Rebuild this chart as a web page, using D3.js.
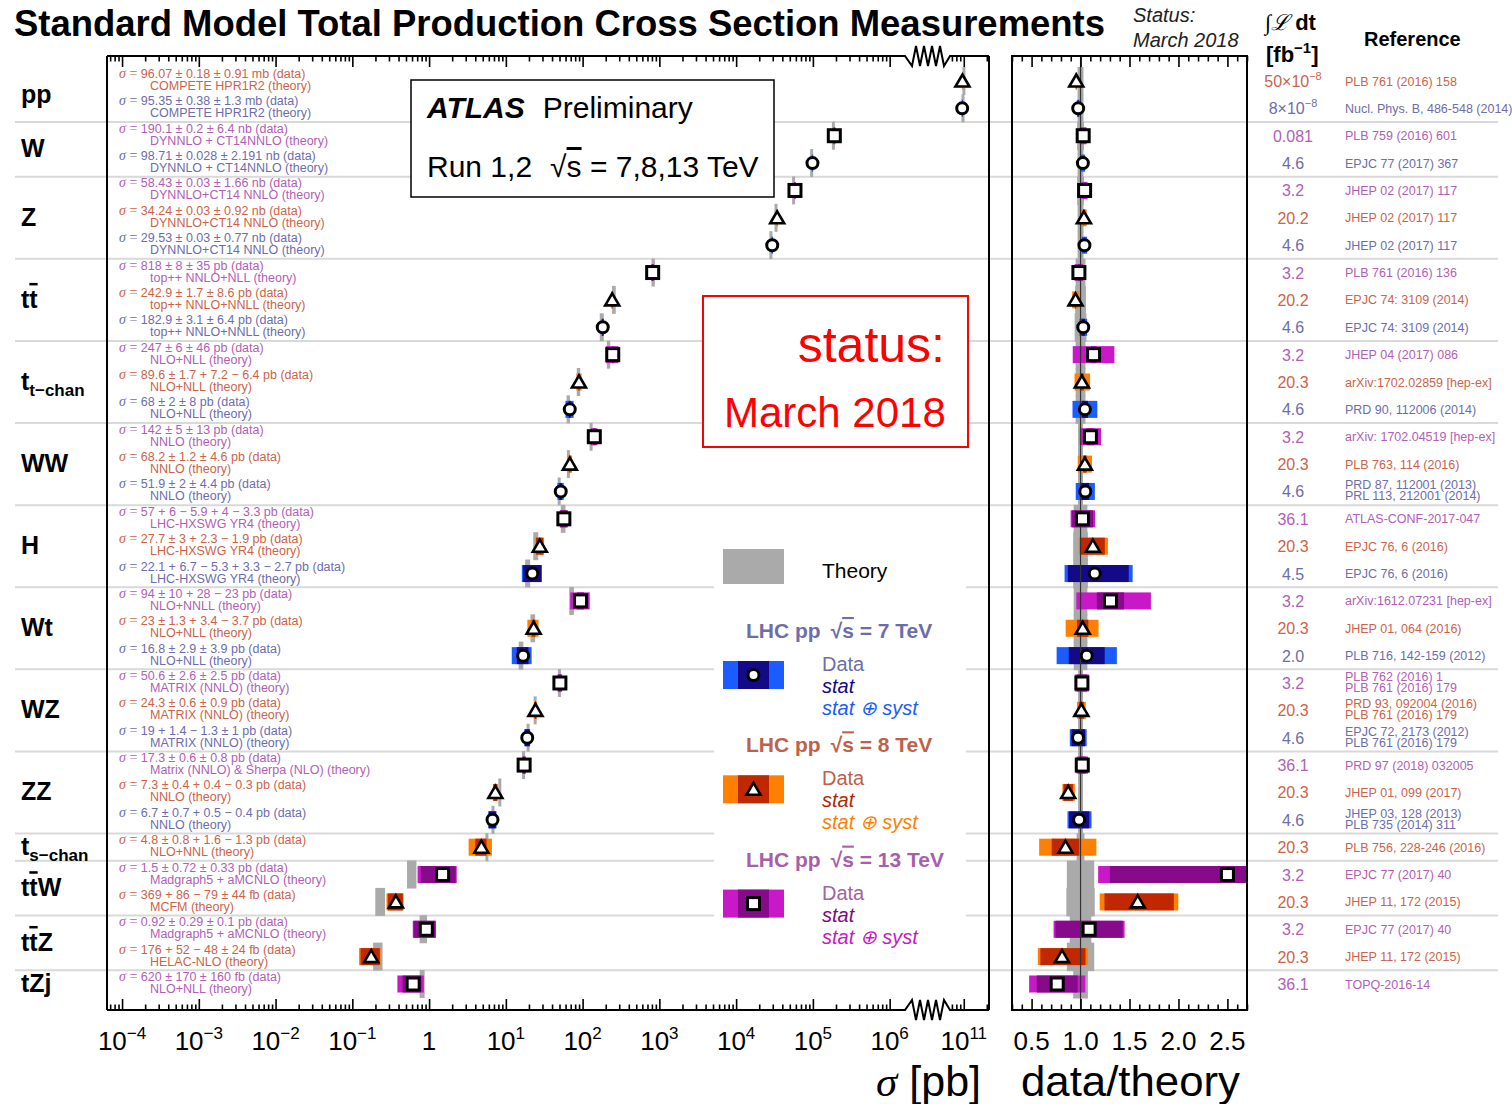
<!DOCTYPE html>
<html><head><meta charset="utf-8">
<script src="https://cdn.jsdelivr.net/npm/d3@7"></script>
<style>body{margin:0;background:#fff}svg{display:block}</style>
</head><body><svg id="c" width="1512" height="1104"></svg>
<script>
// ---------------- DATA ----------------
const groupNames = ["pp","W","Z","tt̄","t_t−chan","WW","H","Wt","WZ","ZZ","t_s−chan","tt̄W","tt̄Z","tZj"];
const groupSizes = [2,2,3,3,3,3,3,3,3,3,1,2,2,1];
const energy = [8,7,13,7,13,8,7,13,8,7,13,8,7,13,8,7,13,8,7,13,8,7,13,8,7,13,8,7,8,13,8,13,8,13];
// cross sections in pb
const sigma  = [96.07e9,95.35e9,190.1e3,98.71e3,58.43e3,34.24e3,29.53e3,818,242.9,182.9,247,89.6,68,142,68.2,51.9,57,27.7,22.1,94,23,16.8,50.6,24.3,19,17.3,7.3,6.7,4.8,1.5,0.369,0.92,0.176,0.62];
const statUp = [0.18e9,0.38e9,0.2e3,0.028e3,0.03e3,0.03e3,0.03e3,8,1.7,3.1,6,1.7,2,5,1.2,2,6,3,6.7,10,1.3,2.9,2.6,0.6,1.4,0.6,0.4,0.7,0.8,0.72,0.086,0.29,0.052,0.17];
const statDn = [0.18e9,0.38e9,0.2e3,0.028e3,0.03e3,0.03e3,0.03e3,8,1.7,3.1,6,1.7,2,5,1.2,2,5.9,3,5.3,10,1.3,2.9,2.6,0.6,1.3,0.6,0.4,0.7,0.8,0.72,0.079,0.29,0.048,0.17];
const systUp = [0.91e9,1.3e9,6.4e3,2.191e3,1.66e3,0.92e3,0.77e3,35,8.6,6.4,46,7.2,8,13,4.6,4.4,4,2.3,3.3,28,3.4,3.9,2.5,0.9,1,0.8,0.4,0.5,1.6,0.33,0.044,0.1,0.024,0.16];
const systDn = [0.91e9,1.3e9,6.4e3,2.191e3,1.66e3,0.92e3,0.77e3,35,8.6,6.4,46,6.4,8,13,4.6,4.4,3.3,1.9,2.7,23,3.7,3.9,2.5,0.9,1,0.8,0.3,0.4,1.3,0.33,0.044,0.1,0.024,0.16];
const theory = [100.5e9,97.7e9,185.1e3,96.4e3,56.1e3,33.1e3,28.4e3,832,256,178,218,88.4,65.1,129,65.3,49.5,55.9,24.6,19.3,72,22.5,15.8,49.9,24.1,19.5,17.0,8.35,6.8,5.67,0.60,0.233,0.846,0.217,0.814];
const theoryUnc = [0.03,0.03,0.035,0.03,0.035,0.03,0.03,0.05,0.055,0.06,0.05,0.05,0.05,0.025,0.025,0.025,0.07,0.075,0.075,0.07,0.07,0.07,0.025,0.025,0.025,0.025,0.025,0.025,0.04,0.14,0.145,0.11,0.14,0.075];
const dataText = ["96.07 ± 0.18 ± 0.91 mb (data)","95.35 ± 0.38 ± 1.3 mb (data)","190.1 ± 0.2 ± 6.4 nb (data)","98.71 ± 0.028 ± 2.191 nb (data)","58.43 ± 0.03 ± 1.66 nb (data)","34.24 ± 0.03 ± 0.92 nb (data)","29.53 ± 0.03 ± 0.77 nb (data)","818 ± 8 ± 35 pb (data)","242.9 ± 1.7 ± 8.6 pb (data)","182.9 ± 3.1 ± 6.4 pb (data)","247 ± 6 ± 46 pb (data)","89.6 ± 1.7 + 7.2 − 6.4 pb (data)","68 ± 2 ± 8 pb (data)","142 ± 5 ± 13 pb (data)","68.2 ± 1.2 ± 4.6 pb (data)","51.9 ± 2 ± 4.4 pb (data)","57 + 6 − 5.9 + 4 − 3.3 pb (data)","27.7 ± 3 + 2.3 − 1.9 pb (data)","22.1 + 6.7 − 5.3 + 3.3 − 2.7 pb (data)","94 ± 10 + 28 − 23 pb (data)","23 ± 1.3 + 3.4 − 3.7 pb (data)","16.8 ± 2.9 ± 3.9 pb (data)","50.6 ± 2.6 ± 2.5 pb (data)","24.3 ± 0.6 ± 0.9 pb (data)","19 + 1.4 − 1.3 ± 1 pb (data)","17.3 ± 0.6 ± 0.8 pb (data)","7.3 ± 0.4 + 0.4 − 0.3 pb (data)","6.7 ± 0.7 + 0.5 − 0.4 pb (data)","4.8 ± 0.8 + 1.6 − 1.3 pb (data)","1.5 ± 0.72 ± 0.33 pb (data)","369 + 86 − 79 ± 44 fb (data)","0.92 ± 0.29 ± 0.1 pb (data)","176 + 52 − 48 ± 24 fb (data)","620 ± 170 ± 160 fb (data)"];
const theoryText = ["COMPETE HPR1R2 (theory)","COMPETE HPR1R2 (theory)","DYNNLO + CT14NNLO (theory)","DYNNLO + CT14NNLO (theory)","DYNNLO+CT14 NNLO (theory)","DYNNLO+CT14 NNLO (theory)","DYNNLO+CT14 NNLO (theory)","top++ NNLO+NLL (theory)","top++ NNLO+NNLL (theory)","top++ NNLO+NNLL (theory)","NLO+NLL (theory)","NLO+NLL (theory)","NLO+NLL (theory)","NNLO (theory)","NNLO (theory)","NNLO (theory)","LHC-HXSWG YR4 (theory)","LHC-HXSWG YR4 (theory)","LHC-HXSWG YR4 (theory)","NLO+NNLL (theory)","NLO+NLL (theory)","NLO+NLL (theory)","MATRIX (NNLO) (theory)","MATRIX (NNLO) (theory)","MATRIX (NNLO) (theory)","Matrix (NNLO) & Sherpa (NLO) (theory)","NNLO (theory)","NNLO (theory)","NLO+NNL (theory)","Madgraph5 + aMCNLO (theory)","MCFM (theory)","Madgraph5 + aMCNLO (theory)","HELAC-NLO (theory)","NLO+NLL (theory)"];
const lumiText = ["50×10^−8","8×10^−8","0.081","4.6","3.2","20.2","4.6","3.2","20.2","4.6","3.2","20.3","4.6","3.2","20.3","4.6","36.1","20.3","4.5","3.2","20.3","2.0","3.2","20.3","4.6","36.1","20.3","4.6","20.3","3.2","20.3","3.2","20.3","36.1"];
const refText = ["PLB 761 (2016) 158","Nucl. Phys. B, 486-548 (2014)","PLB 759 (2016) 601","EPJC 77 (2017) 367","JHEP 02 (2017) 117","JHEP 02 (2017) 117","JHEP 02 (2017) 117","PLB 761 (2016) 136","EPJC 74: 3109 (2014)","EPJC 74: 3109 (2014)","JHEP 04 (2017) 086","arXiv:1702.02859 [hep-ex]","PRD 90, 112006 (2014)","arXiv: 1702.04519 [hep-ex]","PLB 763, 114 (2016)","PRD 87, 112001 (2013)|PRL 113, 212001 (2014)","ATLAS-CONF-2017-047","EPJC 76, 6 (2016)","EPJC 76, 6 (2016)","arXiv:1612.07231 [hep-ex]","JHEP 01, 064 (2016)","PLB 716, 142-159 (2012)","PLB 762 (2016) 1|PLB 761 (2016) 179","PRD 93, 092004 (2016)|PLB 761 (2016) 179","EPJC 72, 2173 (2012)|PLB 761 (2016) 179","PRD 97 (2018) 032005","JHEP 01, 099 (2017)","JHEP 03, 128 (2013)|PLB 735 (2014) 311","PLB 756, 228-246 (2016)","EPJC 77 (2017) 40","JHEP 11, 172 (2015)","EPJC 77 (2017) 40","JHEP 11, 172 (2015)","TOPQ-2016-14"];
const mainTickExps = [-4,-3,-2,-1,0,1,2,3,4,5,6,11];
const ratioTickLabels = ["0.5","1.0","1.5","2.0","2.5"];
const legendEnergies = [7,8,13];

// ---------------- STYLE ----------------
const FONT = '"Liberation Sans", Arial, Helvetica, sans-serif';
const SERIF = '"Liberation Serif", "DejaVu Serif", serif';
const C = {
  7:  {text:"#6d6dab", stat:"#140a88", tot:"#1a5cff", head:"#6e6ea6", stxt:"#140a80"},
  8:  {text:"#cc634a", stat:"#c02800", tot:"#ff8000", head:"#c0604a", stxt:"#b02800"},
  13: {text:"#b160b5", stat:"#860a8a", tot:"#c818c8", head:"#a660a8", stxt:"#800a80"}
};
const GRAY = "#aaaaaa";

const svg = d3.select("#c");
svg.append("rect").attr("width",1512).attr("height",1104).attr("fill","#fff");

// ---------------- SCALES ----------------
const xLo = d3.scaleLog().domain([10**-4.2, 10**6.2]).range([106.7, 905]);
const xHi = d3.scaleLog().domain([10**10.82, 10**11.33]).range([950, 989]);
const xm = v => v > 1e8 ? xHi(v) : xLo(v);
const xr = d3.scaleLinear().domain([0.3, 2.7]).range([1012, 1247]);
const y = d3.scaleLinear().domain([0, 33]).range([81, 984]);
const rows = d3.range(sigma.length);

// ---------------- SEPARATORS ----------------
let cum = 0; const groupStart = [];
groupSizes.forEach(s => { groupStart.push(cum); cum += s; });
const seps = groupStart.slice(1);
svg.append("g").selectAll("line").data(seps).join("line")
  .attr("x1",15).attr("x2",1498).attr("y1",d=>y(d-0.5)).attr("y2",d=>y(d-0.5))
  .attr("stroke","#d9d9d9").attr("stroke-width",2);

// ---------------- TITLE ----------------
svg.append("text").attr("x",14).attr("y",36).attr("font-family",FONT).attr("font-weight","bold")
  .attr("font-size",37).attr("textLength",1091).attr("lengthAdjust","spacingAndGlyphs")
  .text("Standard Model Total Production Cross Section Measurements");
svg.append("text").attr("x",1133).attr("y",22).attr("font-family",FONT).attr("font-style","italic").attr("font-size",20).attr("fill","#222").text("Status:");
svg.append("text").attr("x",1133).attr("y",47).attr("font-family",FONT).attr("font-style","italic").attr("font-size",20).attr("fill","#222").text("March 2018");

// ---------------- GROUP LABELS ----------------
const gl = svg.append("g").attr("font-family",FONT).attr("font-weight","bold").attr("font-size",25);
groupNames.forEach((name,i) => {
  const s = groupStart[i], e = s + groupSizes[i] - 1;
  const yc = (y(s)+y(e))/2 + 8;
  const t = gl.append("text").attr("x",21).attr("y",yc);
  if (name.startsWith("t_")) {
    t.append("tspan").text("t");
    t.append("tspan").attr("font-size",17).attr("dy",6).text(name.slice(2));
  } else if (name.includes("t̄")) {
    const rest = name.replace("tt̄","");
    t.append("tspan").text("t");
    t.append("tspan").style("text-decoration","overline").text("t");
    if (rest) t.append("tspan").text(rest);
  } else t.text(name);
});

// ---------------- BOXES (ATLAS / status / legend backgrounds) ----------------
svg.append("rect").attr("x",411).attr("y",80).attr("width",363).attr("height",117).attr("fill","#fff").attr("stroke","#000").attr("stroke-width",1.5);
const at = svg.append("text").attr("x",427).attr("y",118).attr("font-family",FONT).attr("font-size",30);
at.append("tspan").attr("font-weight","bold").attr("font-style","italic").text("ATLAS");
at.append("tspan").attr("dx",18).text("Preliminary");
const run = svg.append("text").attr("x",427).attr("y",177).attr("font-family",FONT).attr("font-size",30);
run.append("tspan").text("Run 1,2");
run.append("tspan").attr("dx",18).text("√");
run.append("tspan").style("text-decoration","overline").text("s");
run.append("tspan").text(" = 7,8,13 TeV");

svg.append("rect").attr("x",703).attr("y",296).attr("width",265).attr("height",151).attr("fill","#fff").attr("stroke","#ff0000").attr("stroke-width",2);
svg.append("text").attr("x",945).attr("y",362).attr("text-anchor","end").attr("font-family",FONT).attr("font-size",50).attr("fill","#ff0000").text("status:");
svg.append("text").attr("x",724).attr("y",427).attr("font-family",FONT).attr("font-size",42).attr("fill","#ff0000").text("March 2018");

svg.append("rect").attr("x",714).attr("y",540).attr("width",252).attr("height",415).attr("fill","#fff");

// ---------------- MARKERS ----------------
function marker(g, e, cx, cy) {
  if (e === 7) g.append("circle").attr("cx",cx).attr("cy",cy).attr("r",5.5).attr("fill","#fff").attr("stroke","#000").attr("stroke-width",3);
  else if (e === 8) g.append("path").attr("d",`M${cx},${cy-6.5}L${cx+7},${cy+5.5}L${cx-7},${cy+5.5}Z`).attr("fill","#fff").attr("stroke","#000").attr("stroke-width",2.6).attr("stroke-linejoin","miter");
  else g.append("rect").attr("x",cx-6).attr("y",cy-6).attr("width",12).attr("height",12).attr("fill","#fff").attr("stroke","#000").attr("stroke-width",3);
}
const tot = (a,b) => Math.sqrt(a*a+b*b);

// ---------------- MAIN PLOT ----------------
const mp = svg.append("g");
mp.selectAll("rect.th").data(rows).join("rect").attr("class","th")
  .attr("x", i => { const a=xm(theory[i]*(1-theoryUnc[i])), b=xm(theory[i]*(1+theoryUnc[i])); return Math.min(a,(a+b)/2-1.5); })
  .attr("width", i => Math.max(3, xm(theory[i]*(1+theoryUnc[i])) - xm(theory[i]*(1-theoryUnc[i]))))
  .attr("y", i => y(i)-14).attr("height",28).attr("fill",GRAY);
mp.selectAll("rect.tot").data(rows).join("rect").attr("class","tot")
  .attr("x", i => xm(sigma[i]-tot(statDn[i],systDn[i])))
  .attr("width", i => xm(sigma[i]+tot(statUp[i],systUp[i])) - xm(sigma[i]-tot(statDn[i],systDn[i])))
  .attr("y", i => y(i)-8.5).attr("height",17).attr("fill", i => C[energy[i]].tot);
mp.selectAll("rect.st").data(rows).join("rect").attr("class","st")
  .attr("x", i => xm(sigma[i]-statDn[i]))
  .attr("width", i => xm(sigma[i]+statUp[i]) - xm(sigma[i]-statDn[i]))
  .attr("y", i => y(i)-8.5).attr("height",17).attr("fill", i => C[energy[i]].stat);
rows.forEach(i => marker(mp, energy[i], xm(sigma[i]), y(i)));

// row texts
const rt = svg.append("g").attr("font-family",FONT).attr("font-size",12.5);
rows.forEach(i => {
  const col = C[energy[i]].text;
  const t = rt.append("text").attr("x",119).attr("y",y(i)-3).attr("fill",col);
  t.append("tspan").attr("font-family",SERIF).attr("font-style","italic").attr("font-size",14).text("σ");
  t.append("tspan").attr("font-family",SERIF).attr("font-size",14).text(" = ");
  t.append("tspan").text(dataText[i]);
  rt.append("text").attr("x",150).attr("y",y(i)+9).attr("fill",col).text(theoryText[i]);
});

// ---------------- MAIN FRAME & TICKS ----------------
function ticks(scale, vals, yPos, len, orient) {
  const ax = (orient==="bottom" ? d3.axisBottom(scale) : d3.axisTop(scale)).tickValues(vals).tickSize(-len).tickFormat("");
  const g = svg.append("g").attr("transform",`translate(0,${yPos})`).call(ax);
  g.select(".domain").remove(); g.selectAll("text").remove();
  g.selectAll("line").attr("stroke","#000").attr("stroke-width",1.6);
}
const loMajor = d3.range(-4,7).map(e => 10**e);
const loMinor = [];
for (let e=-5; e<=6; e++) for (let m=2; m<=9; m++) { const v=m*10**e; if (v>=10**-4.2 && v<=10**6.2) loMinor.push(v); }
const hiMajor = [1e11], hiMinor = [7e10,8e10,9e10,2e11];
[[56,"top"],[1010,"bottom"]].forEach(([yy,o]) => {
  ticks(xLo, loMajor, yy, 11, o); ticks(xLo, loMinor, yy, 5.5, o);
  ticks(xHi, hiMajor, yy, 11, o); ticks(xHi, hiMinor, yy, 5.5, o);
});
const zigTop = "M107,56H905L912,66L916,46L920,66L924,46L928,66L932,46L936,66L940,46L944,66L950,56H989";
const zigBot = "M107,1010H905L912,1000L916,1020L920,1000L924,1020L928,1000L932,1020L936,1000L940,1020L944,1000L950,1010H989";
svg.append("path").attr("d",zigTop).attr("fill","none").attr("stroke","#000").attr("stroke-width",2);
svg.append("path").attr("d",zigBot).attr("fill","none").attr("stroke","#000").attr("stroke-width",2);
svg.append("path").attr("d","M107,56V1010M989,56V1010").attr("stroke","#000").attr("stroke-width",2);

// tick labels
const tl = svg.append("g").attr("font-family",FONT).attr("font-size",26);
mainTickExps.forEach(e => {
  const t = tl.append("text").attr("x", xm(10**e)).attr("y",1050).attr("text-anchor","middle");
  if (e === 0) t.text("1");
  else { t.append("tspan").text("10"); t.append("tspan").attr("font-size",17).attr("dy",-11).text(String(e).replace("-","−")); }
});
const ax1 = svg.append("text").attr("x",981).attr("y",1096).attr("text-anchor","end").attr("font-family",FONT).attr("font-size",43);
ax1.append("tspan").attr("font-family",SERIF).attr("font-style","italic").text("σ");
ax1.append("tspan").text(" [pb]");

// ---------------- LEGEND ----------------
svg.append("rect").attr("x",723).attr("y",549).attr("width",61).attr("height",35).attr("fill",GRAY);
svg.append("text").attr("x",822).attr("y",578).attr("font-family",FONT).attr("font-size",21).text("Theory");
legendEnergies.forEach((e,k) => {
  const off = k*114.3;
  const h = svg.append("text").attr("x",746).attr("y",638+off).attr("font-family",FONT).attr("font-weight","bold").attr("font-size",21).attr("fill",C[e].head);
  h.append("tspan").text("LHC pp");
  h.append("tspan").attr("dx",10).text("√");
  h.append("tspan").style("text-decoration","overline").text("s");
  h.append("tspan").text(` = ${e} TeV`);
  svg.append("rect").attr("x",723).attr("y",661+off).attr("width",61).attr("height",28).attr("fill",C[e].tot);
  svg.append("rect").attr("x",738).attr("y",661+off).attr("width",31).attr("height",28).attr("fill",C[e].stat);
  marker(svg, e, 753.5, 675+off);
  svg.append("text").attr("x",822).attr("y",671+off).attr("font-family",FONT).attr("font-size",20).attr("fill",C[e].head).text("Data");
  svg.append("text").attr("x",822).attr("y",693+off).attr("font-family",FONT).attr("font-style","italic").attr("font-size",20).attr("fill",C[e].stxt).text("stat");
  svg.append("text").attr("x",822).attr("y",715+off).attr("font-family",FONT).attr("font-style","italic").attr("font-size",20).attr("fill",C[e].tot).text("stat ⊕ syst");
});

// ---------------- RATIO PANEL ----------------
svg.append("defs").append("clipPath").attr("id","rc").append("rect").attr("x",1012).attr("y",56).attr("width",235).attr("height",954);
const rp = svg.append("g").attr("clip-path","url(#rc)");
rp.selectAll("rect.th").data(rows).join("rect")
  .attr("x", i => xr(1-theoryUnc[i])).attr("width", i => xr(1+theoryUnc[i]) - xr(1-theoryUnc[i]))
  .attr("y", i => y(i)-14).attr("height",28.5).attr("fill",GRAY);
rp.selectAll("rect.tot").data(rows).join("rect")
  .attr("x", i => xr((sigma[i]-tot(statDn[i],systDn[i]))/theory[i]))
  .attr("width", i => xr((sigma[i]+tot(statUp[i],systUp[i]))/theory[i]) - xr((sigma[i]-tot(statDn[i],systDn[i]))/theory[i]))
  .attr("y", i => y(i)-8.5).attr("height",17).attr("fill", i => C[energy[i]].tot);
rp.selectAll("rect.st").data(rows).join("rect")
  .attr("x", i => xr((sigma[i]-statDn[i])/theory[i]))
  .attr("width", i => xr((sigma[i]+statUp[i])/theory[i]) - xr((sigma[i]-statDn[i])/theory[i]))
  .attr("y", i => y(i)-8.5).attr("height",17).attr("fill", i => C[energy[i]].stat);
rp.append("line").attr("x1",xr(1)).attr("x2",xr(1)).attr("y1",56).attr("y2",1010).attr("stroke","#333").attr("stroke-width",1.2);
rows.forEach(i => marker(rp, energy[i], xr(sigma[i]/theory[i]), y(i)));
svg.append("rect").attr("x",1012).attr("y",56).attr("width",235).attr("height",954).attr("fill","none").attr("stroke","#000").attr("stroke-width",2);
const rMajor = [0.5,1.0,1.5,2.0,2.5];
const rMinor = d3.range(3,28).map(v => v/10).filter(v => Math.abs(v*2-Math.round(v*2))>1e-6);
[[56,"top"],[1010,"bottom"]].forEach(([yy,o]) => { ticks(xr, rMajor, yy, 11, o); ticks(xr, rMinor, yy, 5.5, o); });
ratioTickLabels.forEach((s,k) => svg.append("text").attr("x",xr(rMajor[k])).attr("y",1050).attr("text-anchor","middle").attr("font-family",FONT).attr("font-size",26).text(s));
svg.append("text").attr("x",1021).attr("y",1096).attr("font-family",FONT).attr("font-size",43).attr("textLength",219).attr("lengthAdjust","spacingAndGlyphs").text("data/theory");

// ---------------- RIGHT COLUMNS ----------------
const h1 = svg.append("text").attr("x",1265).attr("y",30).attr("font-family",FONT).attr("font-weight","bold").attr("font-size",22);
h1.append("tspan").attr("font-family",SERIF).attr("font-style","italic").attr("font-weight","normal").text("∫ℒ");
h1.append("tspan").text(" dt");
const h2 = svg.append("text").attr("x",1266).attr("y",62).attr("font-family",FONT).attr("font-weight","bold").attr("font-size",22);
h2.append("tspan").text("[fb");
h2.append("tspan").attr("font-size",15).attr("dy",-9).text("−1");
h2.append("tspan").attr("dy",9).text("]");
svg.append("text").attr("x",1364).attr("y",46).attr("font-family",FONT).attr("font-weight","bold").attr("font-size",20).text("Reference");

rows.forEach(i => {
  const col = C[energy[i]].text;
  const t = svg.append("text").attr("x",1293).attr("y",y(i)+6).attr("text-anchor","middle").attr("font-family",FONT).attr("font-size",16).attr("fill",col);
  const parts = lumiText[i].split("^");
  t.append("tspan").text(parts[0]);
  if (parts[1]) t.append("tspan").attr("font-size",11).attr("dy",-7).text(parts[1]);
  const lines = refText[i].split("|");
  lines.forEach((ln,k) => {
    const yy = lines.length===1 ? y(i)+4.5 : y(i)-2+k*11;
    svg.append("text").attr("x",1345).attr("y",yy).attr("font-family",FONT).attr("font-size",12.5).attr("fill",col).text(ln);
  });
});
</script></body></html>
